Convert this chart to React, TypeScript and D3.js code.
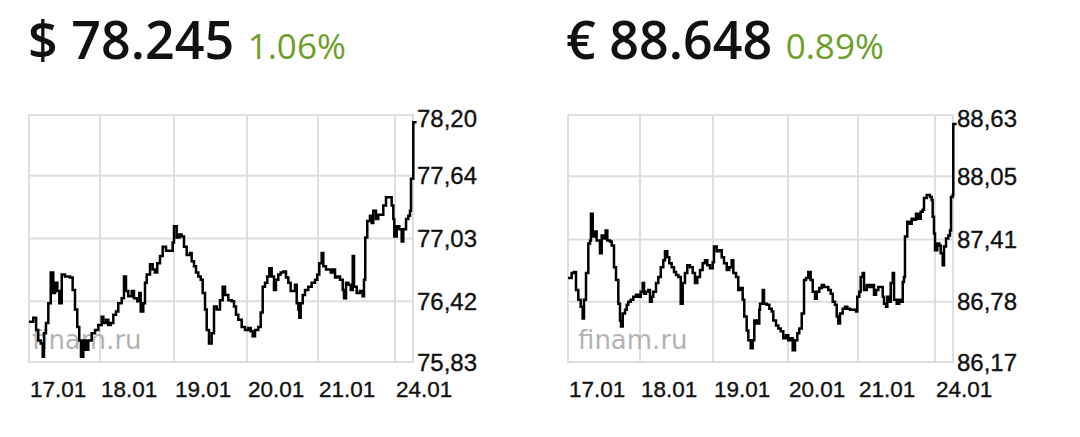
import React from "react";
import * as d3 from "d3";

// ---------- data ----------
const dayLabels = ["17.01", "18.01", "19.01", "20.01", "21.01", "24.01"];

const usdPrice = "78.245";
const usdChange = "1.06%";
const usdTicks = [75.83, 76.42, 77.03, 77.64, 78.2];
const usdTime = [
  0.0, 0.06, 0.1, 0.13, 0.165, 0.193, 0.211, 0.239, 0.272, 0.306, 0.342, 0.366, 0.399, 0.427, 0.461, 0.507, 0.577, 0.615, 0.648, 0.68, 0.708, 0.732, 0.765, 0.799, 0.835, 0.883, 0.93, 0.976,
  1.023, 1.045, 1.081, 1.112, 1.145, 1.18, 1.216, 1.247, 1.293, 1.324, 1.351, 1.382, 1.428, 1.459, 1.504, 1.531, 1.55, 1.585, 1.608, 1.631, 1.676, 1.712, 1.743, 1.774, 1.811, 1.847, 1.892, 1.946, 1.982,
  2.0, 2.037, 2.073, 2.105, 2.137, 2.174, 2.219, 2.242, 2.274, 2.301, 2.333, 2.366, 2.393, 2.425, 2.448, 2.479, 2.516, 2.548, 2.585, 2.63, 2.667, 2.699, 2.744, 2.79, 2.822, 2.849, 2.881, 2.927, 2.973,
  3.018, 3.052, 3.08, 3.113, 3.159, 3.193, 3.221, 3.254, 3.286, 3.314, 3.348, 3.38, 3.408, 3.441, 3.475, 3.511, 3.549, 3.582, 3.615, 3.652, 3.676, 3.7, 3.723, 3.737, 3.756, 3.785, 3.817, 3.863, 3.911, 3.958, 3.99,
  4.017, 4.048, 4.069, 4.104, 4.134, 4.165, 4.191, 4.221, 4.251, 4.286, 4.321, 4.338, 4.364, 4.394, 4.425, 4.451, 4.468, 4.503, 4.545, 4.58, 4.597, 4.614, 4.64, 4.675, 4.697, 4.718, 4.753, 4.783, 4.814, 4.848, 4.883, 4.926, 4.957, 4.978, 4.991,
  5.024, 5.06, 5.093, 5.115, 5.153, 5.185, 5.208, 5.222, 5.254, 5.3,
];
const usdRate = [
  76.22, 76.26, 76.14, 76.04, 76.01, 75.88, 76.11, 76.21, 76.4, 76.7, 76.5, 76.6, 76.52, 76.4, 76.68, 76.66, 76.65, 76.53, 76.34, 76.17, 76.04, 75.88, 76.04, 75.95, 76.04, 76.11, 76.14, 76.19,
  76.27, 76.21, 76.24, 76.19, 76.21, 76.29, 76.32, 76.4, 76.45, 76.66, 76.52, 76.47, 76.52, 76.45, 76.42, 76.5, 76.32, 76.4, 76.6, 76.68, 76.78, 76.73, 76.7, 76.79, 76.86, 76.95, 76.91, 76.91, 76.99,
  77.15, 77.04, 77.07, 77.05, 76.95, 76.87, 76.89, 76.81, 76.76, 76.7, 76.66, 76.63, 76.5, 76.34, 76.14, 76.01, 76.11, 76.37, 76.34, 76.43, 76.56, 76.48, 76.43, 76.42, 76.37, 76.29, 76.24, 76.17, 76.14,
  76.16, 76.13, 76.08, 76.14, 76.17, 76.31, 76.56, 76.6, 76.66, 76.74, 76.66, 76.53, 76.63, 76.68, 76.7, 76.71, 76.65, 76.6, 76.52, 76.52, 76.58, 76.4, 76.34, 76.26, 76.4, 76.48, 76.53, 76.56, 76.6, 76.63, 76.68,
  76.79, 76.89, 76.76, 76.73, 76.73, 76.7, 76.73, 76.65, 76.66, 76.63, 76.53, 76.45, 76.6, 76.58, 76.53, 76.86, 76.56, 76.5, 76.52, 76.47, 76.63, 77.04, 77.2, 77.25, 77.18, 77.3, 77.22, 77.26, 77.26, 77.35, 77.43, 77.43, 77.35, 77.22, 77.05,
  77.15, 77.12, 77.0, 77.12, 77.22, 77.25, 77.3, 77.61, 78.16, 78.16,
];

const eurPrice = "88.648";
const eurChange = "0.89%";
const eurTicks = [86.17, 86.78, 87.41, 88.05, 88.63];
const eurTime = [
  0.0, 0.051, 0.083, 0.111, 0.143, 0.176, 0.204, 0.222, 0.25, 0.282, 0.306, 0.319, 0.343, 0.365, 0.398, 0.421, 0.444, 0.468, 0.5, 0.523, 0.546, 0.583, 0.607, 0.639, 0.667, 0.699, 0.722, 0.736, 0.76, 0.792, 0.815, 0.838, 0.871, 0.907, 0.944, 0.976,
  1.01, 1.037, 1.055, 1.082, 1.114, 1.137, 1.16, 1.182, 1.219, 1.251, 1.284, 1.319, 1.342, 1.374, 1.401, 1.434, 1.466, 1.493, 1.525, 1.558, 1.585, 1.616, 1.648, 1.685, 1.722, 1.753, 1.785, 1.822, 1.858, 1.89, 1.922, 1.959, 1.996,
  2.013, 2.049, 2.084, 2.116, 2.147, 2.183, 2.217, 2.249, 2.271, 2.307, 2.337, 2.369, 2.396, 2.417, 2.449, 2.471, 2.503, 2.529, 2.551, 2.583, 2.617, 2.627, 2.663, 2.68, 2.716, 2.751, 2.783, 2.804, 2.84, 2.871, 2.903, 2.937, 2.973,
  3.004, 3.039, 3.067, 3.1, 3.133, 3.161, 3.196, 3.229, 3.257, 3.29, 3.324, 3.353, 3.386, 3.41, 3.447, 3.481, 3.514, 3.553, 3.576, 3.61, 3.639, 3.671, 3.696, 3.719, 3.743, 3.781, 3.814, 3.847, 3.886, 3.933, 3.971, 3.99,
  4.017, 4.035, 4.061, 4.078, 4.113, 4.147, 4.178, 4.208, 4.234, 4.264, 4.295, 4.321, 4.338, 4.364, 4.381, 4.407, 4.425, 4.451, 4.468, 4.503, 4.536, 4.568, 4.581, 4.597, 4.61, 4.64, 4.666, 4.697, 4.727, 4.753, 4.783, 4.814, 4.84, 4.857, 4.892, 4.935, 4.957, 4.97, 4.987,
  5.0, 5.032, 5.06, 5.079, 5.107, 5.125, 5.153, 5.185, 5.208, 5.222, 5.246, 5.254, 5.3,
];
const eurRate = [
  87.02, 87.07, 87.08, 86.9, 86.8, 86.73, 86.61, 86.8, 87.07, 87.37, 87.4, 87.67, 87.44, 87.49, 87.4, 87.4, 87.27, 87.45, 87.42, 87.5, 87.4, 87.39, 87.35, 87.13, 87.0, 86.76, 86.59, 86.53, 86.66, 86.7, 86.75, 86.78, 86.8, 86.83, 86.85, 86.83,
  86.88, 86.97, 86.86, 86.88, 86.9, 86.78, 86.83, 86.88, 86.97, 87.03, 87.13, 87.2, 87.29, 87.23, 87.17, 87.13, 87.08, 87.05, 87.03, 86.76, 86.97, 87.07, 87.15, 87.13, 87.07, 86.97, 87.03, 87.1, 87.17, 87.2, 87.15, 87.12, 87.18,
  87.34, 87.29, 87.3, 87.23, 87.17, 87.1, 87.13, 87.2, 87.07, 87.03, 86.9, 86.92, 86.8, 86.63, 86.49, 86.39, 86.31, 86.39, 86.59, 86.56, 86.7, 86.76, 86.9, 86.76, 86.75, 86.71, 86.68, 86.59, 86.54, 86.51, 86.48, 86.41, 86.44,
  86.39, 86.41, 86.29, 86.39, 86.46, 86.51, 86.66, 87.0, 87.02, 87.08, 87.0, 86.88, 86.81, 86.88, 86.92, 86.95, 86.93, 86.93, 86.9, 86.86, 86.78, 86.75, 86.63, 86.56, 86.66, 86.71, 86.73, 86.71, 86.7, 86.7, 86.68, 86.83,
  86.88, 87.03, 87.07, 86.9, 86.95, 86.93, 86.95, 86.85, 86.9, 86.93, 86.93, 86.83, 86.76, 86.73, 86.83, 86.78, 86.97, 87.07, 86.8, 86.76, 86.8, 86.78, 86.98, 87.03, 87.44, 87.59, 87.57, 87.62, 87.61, 87.67, 87.62, 87.69, 87.71, 87.83, 87.86, 87.84, 87.81, 87.64, 87.47,
  87.3, 87.37, 87.35, 87.27, 87.15, 87.34, 87.42, 87.45, 87.5, 87.84, 87.86, 88.58, 88.58,
];

// ---------- layout ----------
const W = 1080;
const H = 437;
const TOP = 115;
const BOTTOM = 362;
const DAY_DOMAIN = [0, 1, 2, 3, 4, 5, 5.25];
const GREEN = "#6b9f2a";
const GRID = "#dedede";
const AXIS_FONT = "'Liberation Sans', Arial, sans-serif";

type ChartProps = {
  symbol: string;
  price: string;
  change: string;
  time: number[];
  rate: number[];
  ticks: number[];
  yMax: number;
  dayX: number[];
  headerX: number;
  markX: number;
};

function Chart({ symbol, price, change, time, rate, ticks, yMax, dayX, headerX, markX }: ChartProps) {
  const x = d3.scaleLinear().domain(DAY_DOMAIN).range(dayX);
  const y = d3.scaleLinear().domain([ticks[0], yMax]).range([BOTTOM, TOP]);
  const left = x(0);
  const right = x(5.25);
  const pts = time.map((t, i) => [t, rate[i]] as [number, number]);
  const line = d3
    .line<[number, number]>()
    .x((d) => x(d[0]))
    .y((d) => y(d[1]))
    .curve(d3.curveStepAfter);
  const fmt = (v: number) => v.toFixed(2).replace(".", ",");

  return (
    <g>
      <text x={headerX} y={59} fontFamily="'Open Sans', sans-serif" fontSize={52} fontWeight={600} fill="#111">
        {symbol + " " + price + " "}
        <tspan fontSize={35} fontWeight={400} fill={GREEN}>
          {change}
        </tspan>
      </text>

      {/* grid */}
      {ticks.slice(1, -1).map((v) => (
        <line key={"h" + v} x1={left} x2={right} y1={y(v)} y2={y(v)} stroke={GRID} strokeWidth={2} />
      ))}
      {[1, 2, 3, 4, 5].map((d) => (
        <line key={"v" + d} x1={x(d)} x2={x(d)} y1={TOP} y2={BOTTOM} stroke={GRID} strokeWidth={2} />
      ))}
      <rect x={left} y={TOP} width={right - left} height={BOTTOM - TOP} fill="none" stroke={GRID} strokeWidth={2} />

      {/* watermark */}
      <text x={markX} y={349} fontFamily="'DejaVu Sans', Verdana, sans-serif" fontSize={26} fill="#b3b3b3">
        finam.ru
      </text>

      {/* line */}
      <path d={line(pts) ?? ""} fill="none" stroke="#000" strokeWidth={2.5} />

      {/* y labels */}
      {ticks.map((v) => (
        <text key={"y" + v} x={right + 4} y={y(v) + 8.5} fontFamily={AXIS_FONT} fontSize={24} fill="#111" stroke="#111" strokeWidth={0.35}>
          {fmt(v)}
        </text>
      ))}

      {/* x labels */}
      {dayLabels.map((lab, i) => (
        <text key={lab} x={x(i) + 1} y={397} fontFamily={AXIS_FONT} fontSize={22.5} fill="#111" stroke="#111" strokeWidth={0.35}>
          {lab}
        </text>
      ))}
    </g>
  );
}

export default function App() {
  return (
    <svg
      width={W}
      height={H}
      viewBox={`0 0 ${W} ${H}`}
      style={{ position: "absolute", left: 0, top: 0, display: "block", background: "#fff" }}
    >
      <rect x={0} y={0} width={W} height={H} fill="#fff" />
      <Chart
        symbol="$"
        price={usdPrice}
        change={usdChange}
        time={usdTime}
        rate={usdRate}
        ticks={usdTicks}
        yMax={78.23}
        dayX={[29, 100, 174, 247, 318, 395, 413]}
        headerX={28}
        markX={32}
      />
      <Chart
        symbol="€"
        price={eurPrice}
        change={eurChange}
        time={eurTime}
        rate={eurRate}
        ticks={eurTicks}
        yMax={88.67}
        dayX={[568, 640, 713, 788, 858, 935, 953]}
        headerX={566}
        markX={578}
      />
    </svg>
  );
}
